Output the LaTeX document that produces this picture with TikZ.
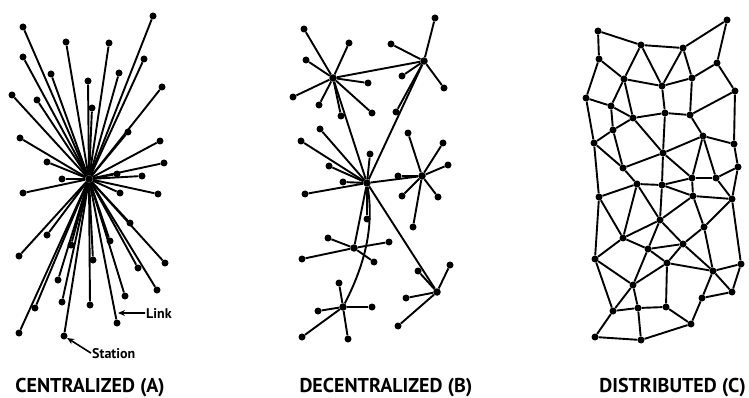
\documentclass[tikz,border=0pt]{standalone}
\usepackage{fontspec}
\setmainfont{PT Sans}
\usetikzlibrary{arrows.meta, positioning}

\begin{document}
\begin{tikzpicture}[
    x=1pt, y=-1pt,
    station/.style={circle, fill=black, inner sep=0pt, minimum size=7pt},
    hub/.style={circle, fill=black, inner sep=0pt, minimum size=7.5pt},
    link/.style={line width=1.9pt},
    title/.style={font=\bfseries\fontsize{20}{24}\selectfont, inner sep=0pt},
    tag/.style={font=\bfseries\fontsize{14}{16}\selectfont, inner sep=1pt},
    tip/.style={-{Stealth[length=7pt, width=6pt]}, line width=1.6pt},
  ]
  \useasboundingbox (0,0) rectangle (749,398);

  % Centralized (A): one hub, every station tied to it
  \node[hub] (cen) at (89,179) {};
  \foreach \x/\y [count=\i] in {153/16, 23/27, 66/42, 109/43, 23/57, 144/59, 51/74,
      119/73, 88/81, 162/87, 12/95, 37/100, 92/108, 128/132, 20/138, 160/141,
      47/162, 164/163, 142/176, 117/174, 62/179, 23/193, 158/194, 120/193,
      130/223, 47/235, 19/256, 110/241, 71/245, 165/263, 138/268, 93/260,
      58/280, 157/290, 125/296, 62/302, 90/305, 35/308, 117/323, 19/333, 64/336} {
    \node[station] (cen-\i) at (\x,\y) {};
    \draw[link] (cen) -- (cen-\i);
  }
  \node[tag, anchor=base west] (linktag) at (145,318) {Link};
  \coordinate (linkpt) at (118,313);
  \draw[tip] (linktag.west) -- (linkpt);
  \node[tag, anchor=base west] (stationtag) at (91,358) {Station};
  \draw[tip] (stationtag.west) -- (cen-41);

  % Decentralized (B): several hubs, each with its own stations
  \foreach \n/\x/\y in {1/333/78, 2/424/61, 3/367/183, 4/422/176, 5/354/248,
      6/343/307, 7/437/292}
    \node[hub] (dec-\n) at (\x,\y) {};
  \foreach \h/\x/\y [count=\i] in {1/304/29, 1/349/43, 1/306/60, 1/368/83,
      1/293/97, 1/319/105, 1/341/116, 1/372/113,
      2/435/18, 2/391/44, 2/402/76, 2/444/88, 2/396/112,
      3/320/129, 3/301/141, 3/370/154, 3/329/166, 3/343/182, 3/305/194, 3/367/219,
      4/408/133, 4/443/143, 4/448/165, 4/398/176, 4/402/196, 4/438/197, 4/413/227,
      5/328/238, 5/389/242, 5/302/259, 5/374/262,
      6/339/283, 6/318/311, 6/372/307, 6/302/337, 6/348/339,
      7/418/271, 7/450/265, 7/406/298, 7/398/326} {
    \node[station] (dec-leaf-\i) at (\x,\y) {};
    \draw[link] (dec-\h) -- (dec-leaf-\i);
  }
  \draw[link] (dec-1) -- (dec-2);
  \draw[link] (dec-1) -- (dec-3);
  \draw[link] (dec-2) -- (dec-3);
  \draw[link] (dec-3) -- (dec-4);
  \draw[link] (dec-3) -- (dec-5);
  \draw[link] (dec-3) -- (dec-7);
  \draw[link] (dec-3) .. controls (374,225) and (366,262) .. (dec-6);

  % Distributed (C): a mesh, no hub at all
  \foreach \n/\x/\y in {a1/598/31, a2/641/45, a3/683/48, a4/727/20,
      b1/599/59, b2/717/63, c1/624/79, c2/662/86, c3/692/78,
      d1/586/98, d2/735/91, e1/611/106, f1/633/118, f2/665/113, f3/690/115,
      g1/613/130, h1/703/136, i1/594/143, i2/734/144, j1/663/153,
      k1/623/168, k2/738/167, l1/692/178, l2/716/178, m1/637/184, m2/662/185,
      n1/599/197, n2/693/196, n3/732/199, o1/660/220, o2/704/227,
      p1/623/238, p2/683/244, p3/648/249,
      q1/595/259, q2/667/263, q3/741/264, q4/713/271,
      r1/633/285, r2/732/292, r3/702/298,
      s1/613/311, s2/638/308, s3/666/307, t1/691/324, u1/595/337, u2/641/340}
    \node[station] (dis-\n) at (\x,\y) {};
  \foreach \a/\b in {a1/b1, a1/a2, a2/a3, a3/a4, a4/b2, a2/c1, a2/c2, a3/c2, a3/c3,
      b2/c3, b2/d2, b1/c1, b1/d1, c1/c2, c2/c3, c1/e1, c1/f1, c2/f2, c3/f3,
      d1/e1, d1/i1, e1/f1, e1/g1, f1/f2, f2/f3, f3/d2, d2/i2, f3/h1,
      f1/g1, f1/j1, f2/j1, g1/i1, g1/k1, i1/k1, i1/n1, h1/i2, h1/j1, h1/l1, h1/l2,
      i2/k2, k2/l2, k2/n3, j1/k1, j1/m2, j1/l1, k1/m1, m1/m2, m2/l1, l1/l2,
      l1/n2, m2/n2, l2/n3, n2/n3, m1/n1,
      n1/q1, n1/p1, m1/p1, m1/o1, m2/o1, n2/o1, n2/o2, n3/o2, n3/q3,
      o1/p1, o1/p3, o1/p2, o2/p2, o2/q4, p1/p3, p1/q1, p3/p2, p3/q2, p3/r1,
      p2/q2, p2/q4, q1/r1, q1/s1, q2/r1, q2/s3, q2/q4, q4/q3, q4/r2, q4/r3,
      q3/r2, r1/s1, r1/s2, r2/r3, r3/t1, s1/s2, s2/s3, s3/t1, s1/u1, s2/u2,
      u1/u2, u2/t1}
    \draw[link] (dis-\a) -- (dis-\b);

  % Captions
  \node[title, anchor=base] (cap-a) at (90,392) {CENTRALIZED (A)};
  \node[title, anchor=base] (cap-b) at (386,392) {DECENTRALIZED (B)};
  \node[title, anchor=base east] (cap-c) at (746,392) {DISTRIBUTED (C)};
\end{tikzpicture}
\end{document}
